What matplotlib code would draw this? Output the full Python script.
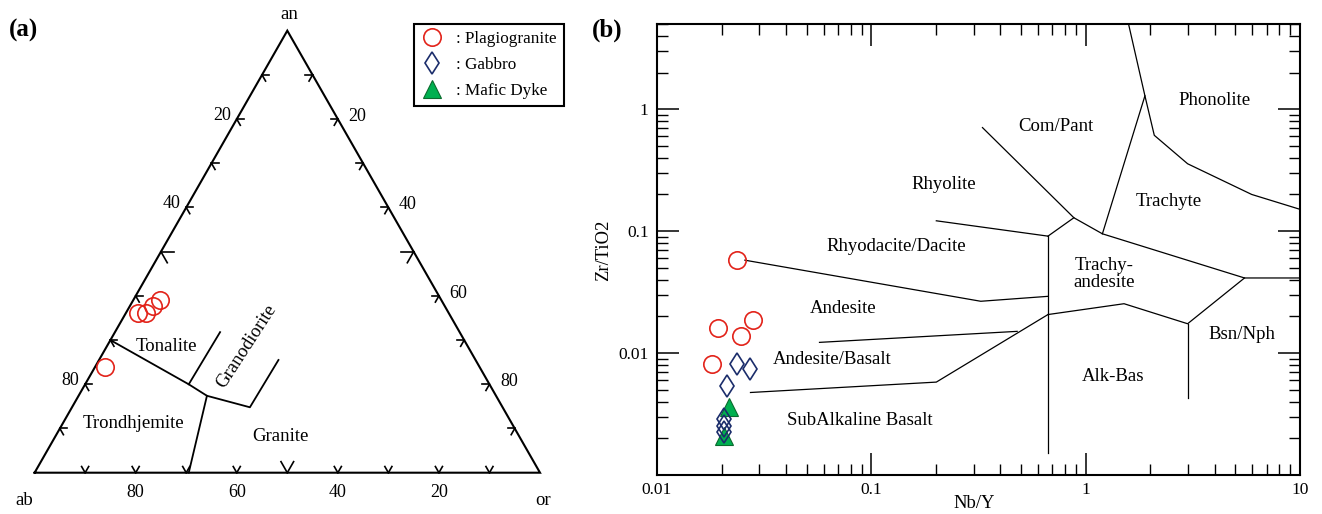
import numpy as np
import matplotlib
matplotlib.use('Agg')
import matplotlib.pyplot as plt
from matplotlib.lines import Line2D
from matplotlib.ticker import LogLocator, NullFormatter, FixedLocator, FixedFormatter

plt.rcParams['font.family'] = ['Liberation Serif', 'DejaVu Serif']

# ------------------------------------------------------------------ data
# Panel (a): An-Ab-Or ternary, values in %  (ab = 100 - an - or)
plag_an = [39.1, 37.7, 36.1, 36.1, 23.8]
plag_or = [5.3, 4.6, 4.0, 2.5, 2.0]

# classification boundaries (an, or)
bnd_main_an = [30, 20, 17.4, 14.8, 25.5]
bnd_main_or = [0, 20.5, 25.4, 35.2, 35.5]
bnd_ton_gd_an = [20, 31.8]
bnd_ton_gd_or = [20.5, 20.8]
bnd_tro_gr_an = [17.4, 0]
bnd_tro_gr_or = [25.4, 30.5]

regions_a = ['Tonalite', 'Trondhjemite', 'Granite', 'Granodiorite']
regions_a_an = [28.5, 11.2, 8.1, 28.5]
regions_a_or = [11.8, 13.9, 44.6, 27.6]

tick_left_vals = [20, 40, 80]        # ab values along ab-an edge
tick_right_vals = [20, 40, 60, 80]   # or values along or-an edge
tick_bottom_vals = [80, 60, 40, 20]  # ab values along ab-or edge

# Panel (b): Nb/Y vs Zr/TiO2
nby_plag = [0.0237, 0.0193, 0.0280, 0.0247, 0.0180]
zrti_plag = [0.0578, 0.0162, 0.0187, 0.0137, 0.0081]
nby_gab = [0.0235, 0.0272, 0.0213, 0.0205, 0.0206, 0.0205]
zrti_gab = [0.0081, 0.0074, 0.0054, 0.00288, 0.00254, 0.00226]
nby_dyke = [0.0217, 0.0206]
zrti_dyke = [0.0036, 0.00209]

# Winchester & Floyd field boundaries (Nb/Y list, Zr/TiO2 list)
wf_lines = [
    ([0.0257, 0.324, 0.667], [0.0578, 0.0266, 0.0292]),
    ([0.201, 0.667], [0.1216, 0.0910]),
    ([0.667, 0.667], [0.0910, 0.00151]),
    ([0.667, 0.881], [0.0910, 0.1288]),
    ([0.330, 0.881, 1.197, 5.51, 10], [0.707, 0.1288, 0.0951, 0.0413, 0.0413]),
    ([1.197, 1.89], [0.0951, 1.288]),
    ([1.585, 1.89, 2.09, 2.99, 5.95, 10], [5.0, 1.288, 0.611, 0.357, 0.200, 0.151]),
    ([0.667, 1.51, 2.99, 5.51], [0.0207, 0.0254, 0.0174, 0.0413]),
    ([2.99, 2.99], [0.0174, 0.00427]),
    ([0.0573, 0.479], [0.01224, 0.01507]),
    ([0.0273, 0.201, 0.667], [0.00475, 0.00578, 0.0207]),
]

regions_b = ['Phonolite', 'Com/Pant', 'Rhyolite', 'Trachyte', 'Rhyodacite/Dacite',
             'Trachy-\nandesite', 'Andesite', 'Bsn/Nph', 'Andesite/Basalt',
             'Alk-Bas', 'SubAlkaline Basalt']
regions_b_x = [4.0, 0.727, 0.217, 2.44, 0.1308, 1.215, 0.0735, 5.36, 0.0658, 1.346, 0.0879]
regions_b_y = [1.17, 0.726, 0.243, 0.174, 0.0749, 0.0444, 0.0232, 0.0141, 0.00893, 0.0064, 0.00282]

series_labels = [': Plagiogranite', ': Gabbro', ': Mafic Dyke']

RED = '#e2231a'
NAVY = '#1b2d6b'
GREEN = '#00b050'

# ------------------------------------------------------------------ figure
W, H = 1322, 514
fig = plt.figure(figsize=(W / 100, H / 100), dpi=100)

S3 = np.sqrt(3) / 2


def tern(an, orr):
    an = np.asarray(an, dtype=float)
    orr = np.asarray(orr, dtype=float)
    return orr + an / 2.0, an * S3


# ---- panel (a)
sx, sy = 5.054, 5.104       # px per data unit
x0px, y0px = 34.6, 472.7    # pixel of ab vertex
axw = 590
ax_a = fig.add_axes([0, 0, axw / W, 1])
ax_a.set_xlim(-x0px / sx, (axw - x0px) / sx)
ax_a.set_ylim(-(H - y0px) / sy, y0px / sy)
ax_a.axis('off')

tx, ty = tern([0, 0, 100, 0], [0, 100, 0, 0])
ax_a.plot(tx, ty, color='black', lw=1.5, solid_joinstyle='miter', clip_on=False)

# chevron ticks
for k in range(1, 10):
    L = 2.5 if k == 5 else 1.4
    # left edge (or = 0)
    px, py = tern(10 * k, 0)
    for ang in (0, -60):
        a = np.radians(ang)
        ax_a.plot([px, px + L * np.cos(a)], [py, py + L * np.sin(a)], color='black', lw=1.2)
    # right edge (ab = 0)
    px, py = tern(10 * k, 100 - 10 * k)
    for ang in (180, 240):
        a = np.radians(ang)
        ax_a.plot([px, px + L * np.cos(a)], [py, py + L * np.sin(a)], color='black', lw=1.2)
    # bottom edge (an = 0)
    px, py = tern(0, 10 * k)
    for ang in (60, 120):
        a = np.radians(ang)
        ax_a.plot([px, px + L * np.cos(a)], [py, py + L * np.sin(a)], color='black', lw=1.2)

fs_tick = 13
for v in tick_left_vals:
    px, py = tern(100 - v, 0)
    ax_a.text(px - 1.2, py + 0.7, str(v), ha='right', va='center', fontsize=fs_tick)
for v in tick_right_vals:
    px, py = tern(100 - v, v)
    ax_a.text(px + 2.1, py + 0.5, str(v), ha='left', va='center', fontsize=fs_tick)
for v in tick_bottom_vals:
    px, py = tern(0, 100 - v)
    ax_a.text(px, py - 3.9, str(v), ha='center', va='center', fontsize=fs_tick)

ax_a.text(50.3, 89.7, 'an', ha='center', va='center', fontsize=13.5)
ax_a.text(-2.0, -5.4, 'ab', ha='center', va='center', fontsize=13.5)
ax_a.text(100.7, -5.4, 'or', ha='center', va='center', fontsize=13.5)

for an_l, or_l in ((bnd_main_an, bnd_main_or), (bnd_ton_gd_an, bnd_ton_gd_or),
                   (bnd_tro_gr_an, bnd_tro_gr_or)):
    bx, by = tern(an_l, or_l)
    ax_a.plot(bx, by, color='black', lw=1.3)

for name, a_, o_ in zip(regions_a, regions_a_an, regions_a_or):
    rx, ry = tern(a_, o_)
    rot = 57 if name == 'Granodiorite' else 0
    ax_a.text(rx, ry, name, ha='center', va='center', fontsize=13.5, rotation=rot,
              rotation_mode='anchor')

px, py = tern(plag_an, plag_or)
ax_a.plot(px, py, ls='none', marker='o', ms=12.5, mfc='none', mec=RED, mew=1.2)

# ---- panel (b)
bl, br, bt, bb = 657, 1300, 24, 475
ax_b = fig.add_axes([bl / W, (H - bb) / H, (br - bl) / W, (bb - bt) / H])
ax_b.set_xscale('log')
ax_b.set_yscale('log')
ax_b.set_xlim(0.01, 10)
ax_b.set_ylim(0.001, 5)

for xs, ys in wf_lines:
    ax_b.plot(xs, ys, color='black', lw=0.9)

for name, x_, y_ in zip(regions_b, regions_b_x, regions_b_y):
    ax_b.text(x_, y_, name, ha='center', va='center', fontsize=13.5, linespacing=1.0)

ax_b.plot(nby_dyke, zrti_dyke, ls='none', marker='^', ms=13, mfc=GREEN, mec='#0b6b2e', mew=0.8, zorder=3)
ax_b.plot(nby_gab, zrti_gab, ls='none', marker='d', ms=11.5, mfc='none', mec=NAVY, mew=1.2, zorder=4)
ax_b.plot(nby_plag, zrti_plag, ls='none', marker='o', ms=12.5, mfc='none', mec=RED, mew=1.2, zorder=4)

ax_b.xaxis.set_major_locator(FixedLocator([0.01, 0.1, 1, 10]))
ax_b.xaxis.set_major_formatter(FixedFormatter(['0.01', '0.1', '1', '10']))
ax_b.yaxis.set_major_locator(FixedLocator([0.01, 0.1, 1]))
ax_b.yaxis.set_major_formatter(FixedFormatter(['0.01', '0.1', '1']))
ax_b.xaxis.set_minor_locator(LogLocator(base=10, subs=np.arange(2, 10), numticks=20))
ax_b.yaxis.set_minor_locator(LogLocator(base=10, subs=np.arange(2, 10), numticks=20))
ax_b.xaxis.set_minor_formatter(NullFormatter())
ax_b.yaxis.set_minor_formatter(NullFormatter())
ax_b.tick_params(which='both', direction='in', top=True, right=True, labelsize=12.5)
ax_b.tick_params(which='major', length=15.5, width=1.1, pad=5)
ax_b.tick_params(which='minor', length=7.8, width=1.0)
ax_b.tick_params(axis='y', which='major', pad=6)
for sp in ax_b.spines.values():
    sp.set_linewidth(1.5)

ax_b.set_xlabel('Nb/Y', fontsize=13.4)
ax_b.xaxis.set_label_coords((974.4 - bl) / (br - bl), -(503 - bb) / (bb - bt))
ax_b.xaxis.label.set_va('center')
ax_b.set_ylabel('Zr/TiO2', fontsize=13.4)
ax_b.yaxis.set_label_coords((604 - bl) / (br - bl), (bb - 250) / (bb - bt))
ax_b.yaxis.label.set_va('center')

# ---- legend
handles = [
    Line2D([], [], ls='none', marker='o', ms=12.5, mfc='none', mec=RED, mew=1.2),
    Line2D([], [], ls='none', marker='d', ms=11.5, mfc='none', mec=NAVY, mew=1.2),
    Line2D([], [], ls='none', marker='^', ms=13, mfc=GREEN, mec='#0b6b2e', mew=0.8),
]
leg = fig.legend(handles, series_labels, loc='upper left',
                 bbox_to_anchor=(414 / W, 1 - 24 / H), bbox_transform=fig.transFigure,
                 frameon=True, fancybox=False, edgecolor='black', framealpha=1,
                 fontsize=12.3, borderpad=0.4, handlelength=1.32, handletextpad=0.75,
                 labelspacing=0.6, borderaxespad=0)
leg.get_frame().set_linewidth(1.5)

# ---- panel labels
fig.text(23 / W, 1 - 30 / H, '(a)', fontsize=18, fontweight='bold', ha='center', va='center')
fig.text(607.5 / W, 1 - 30 / H, '(b)', fontsize=18, fontweight='bold', ha='center', va='center')

fig.savefig('out.png', dpi=100)
